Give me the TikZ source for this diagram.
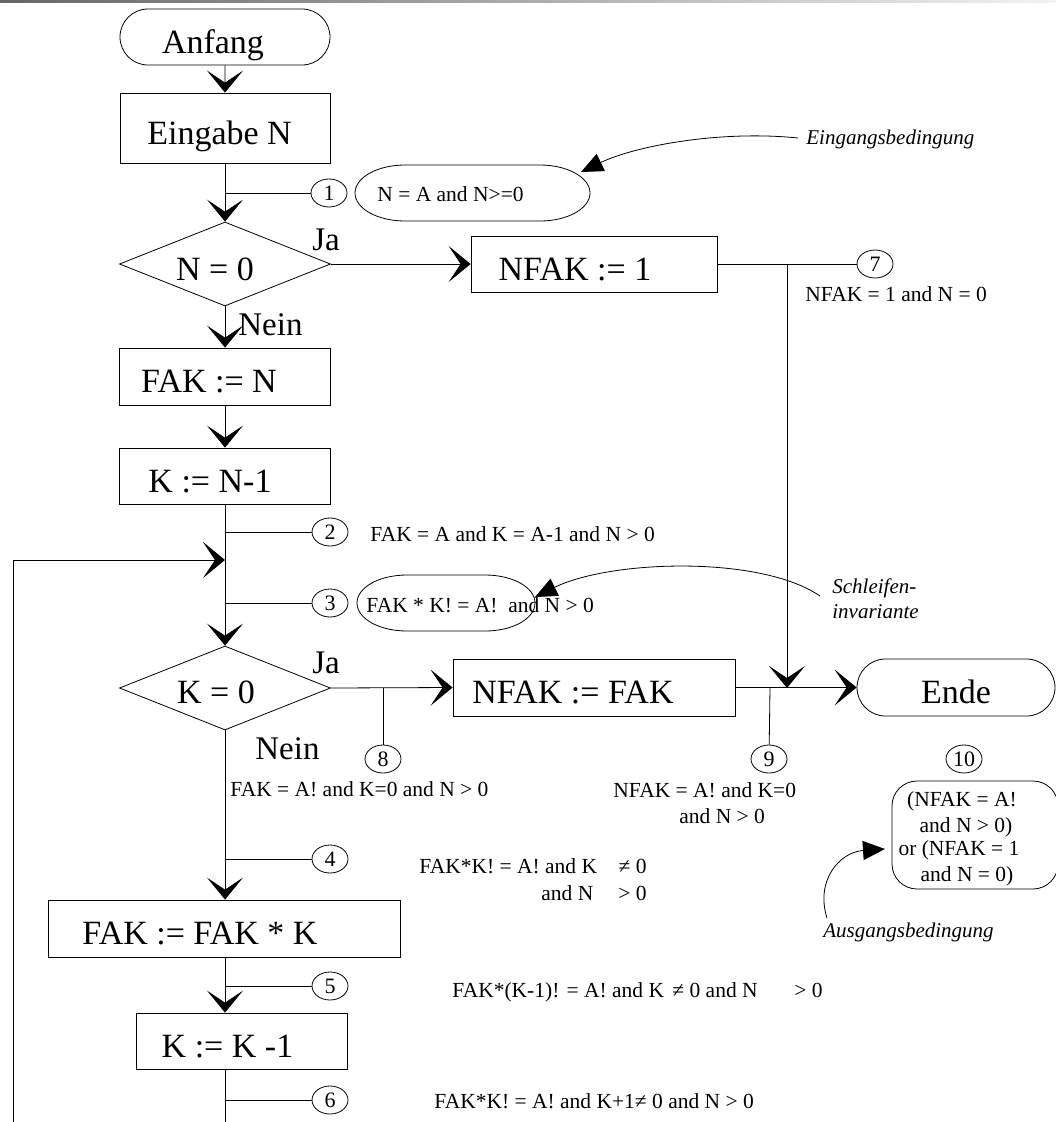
\documentclass[tikz,border=0pt]{standalone}
\usepackage{fontspec}
\setmainfont{Liberation Serif}
\usetikzlibrary{arrows.meta,shapes.geometric,shapes.misc}
\begin{document}
\begin{tikzpicture}[x=1pt,y=-1pt,
  line width=0.8pt,
  big/.style={font=\fontsize{34}{40}\selectfont},
  small/.style={font=\fontsize{21.5}{25}\selectfont},
  ital/.style={font=\fontsize{21}{25}\selectfont\itshape},
  jn/.style={font=\fontsize{33}{38}\selectfont},
  procbox/.style={draw, rectangle, inner sep=0pt, big, text height=34pt, text depth=2pt},
  term/.style={draw, rounded rectangle, inner sep=0pt, big, text height=34pt, text depth=2pt},
  dec/.style={draw, diamond, inner sep=0pt, minimum width=211pt, minimum height=84pt},
  numc/.style={draw, ellipse, inner sep=0pt, minimum width=36pt, minimum height=28pt, font=\fontsize{22}{24}\selectfont},
  flow/.style={-{Stealth[length=22pt,width=36pt,inset=12pt]}},
  ann/.style={-{Triangle[length=22pt,width=19pt]}},
  lbl/.style={anchor=base west, inner sep=0pt, small},
  lble/.style={anchor=base east, inner sep=0pt, small},
  lblc/.style={anchor=base, inner sep=0pt, small},
]
\useasboundingbox (0,0) rectangle (1056,1122);
\shade[left color=black!60, right color=black!5] (0,0) rectangle (1056,2);

% ---- main flow nodes
\node[term, minimum width=210pt, minimum height=56pt] (anf) at (225,37) {Anfang\kern24pt};
\node[procbox, minimum width=210pt, minimum height=70pt] (eing) at (225,128) {Eingabe N\kern11pt};
\node[dec] (n0) at (225,264) {};
\node[big, anchor=base, inner sep=0pt] (n0t) at (215,280) {N = 0};
\node[procbox, minimum width=246pt, minimum height=56pt] (nfak1) at (594,264) {NFAK := 1\kern38pt};
\node[procbox, minimum width=211pt, minimum height=57pt] (fakn) at (225,376.5) {FAK := N\kern32pt};
\node[procbox, minimum width=211pt, minimum height=56pt] (kn1) at (225,476) {K := N-1\kern30pt};
\node[dec] (k0) at (225,688) {};
\node[big, anchor=base, inner sep=0pt] (k0t) at (216,703) {K = 0};
\node[procbox, minimum width=282pt, minimum height=57pt] (nfakfak) at (594,687.5) {NFAK := FAK\kern42pt};
\node[term, minimum width=198pt, minimum height=57pt] (ende) at (956,687.5) {Ende};
\node[procbox, minimum width=352pt, minimum height=57pt] (fakfk) at (224,928.5) {FAK := FAK * K\kern48pt};
\node[procbox, minimum width=211pt, minimum height=56pt] (kk1) at (241.5,1041) {K := K -1\kern28pt};

% ---- Ja / Nein
\node[jn, anchor=base west, inner sep=0pt] (ja1) at (312,250) {Ja};
\node[jn, anchor=base west, inner sep=0pt] (nein1) at (238,335) {Nein};
\node[jn, anchor=base west, inner sep=0pt] (ja2) at (312,673) {Ja};
\node[jn, anchor=base west, inner sep=0pt] (nein2) at (255,759) {Nein};

% ---- numbered circles
\node[numc] (c1) at (329,193) {1};
\node[numc] (c2) at (330,532) {2};
\node[numc] (c3) at (330,603) {3};
\node[numc] (c4) at (330,859) {4};
\node[numc] (c5) at (330,986) {5};
\node[numc] (c6) at (330,1100) {6};
\node[numc] (c7) at (875,264) {7};
\node[numc] (c8) at (383,759) {8};
\node[numc] (c9) at (769,759) {9};
\node[numc] (c10) at (964,759) {10};

% ---- junction coordinates
\coordinate (j1) at (225,193);
\coordinate (j2) at (225,532);
\coordinate (jl) at (225,560);
\coordinate (j3) at (225,603);
\coordinate (j4) at (225,859);
\coordinate (j5) at (225,986);
\coordinate (j6) at (225,1100);
\coordinate (jb) at (225,1122);
\coordinate (lb) at (13,1122);
\coordinate (lc) at (13,560);
\coordinate (j7) at (787,264);
\coordinate (jm) at (787,688);
\coordinate (j8) at (383,688);
\coordinate (j9) at (770,688);

% ---- connectors
\draw[flow] (anf) -- (eing);
\draw[flow] (eing) -- (n0);
\draw (j1) -- (c1);
\draw[flow] (n0.east) -- (nfak1.west);
\draw[flow] (n0.south) -- (fakn.north);
\draw[flow] (fakn) -- (kn1);
\draw[flow] (kn1.south) -- (k0.north);
\draw (j2) -- (c2);
\draw (j3) -- (c3);
\draw[flow] (lb) -- (lc) -- (jl);
\draw (nfak1.east) -- (c7);
\draw[flow] (j7) -- (jm);
\draw[flow] (k0.east) -- (nfakfak.west);
\draw (j8) -- (c8);
\draw[flow] (nfakfak.east) -- (ende.west);
\draw (j9) -- (c9);
\draw[flow] (k0.south) -- (fakfk.north -| anf);
\draw (j4) -- (c4);
\draw[flow] (fakfk.south -| anf) -- (kk1.north -| anf);
\draw (j5) -- (c5);
\draw (kk1.south -| anf) -- (jb);
\draw (j6) -- (c6);

% ---- condition shapes
\draw (405,165) -- (540,165) .. controls (567.6,165) and (590,177.5) .. (590,193)
  .. controls (590,208.5) and (567.6,221) .. (540,221) -- (405,221)
  .. controls (377.4,221) and (355,208.5) .. (355,193)
  .. controls (355,177.5) and (377.4,165) .. (405,165) -- cycle;
\node[lbl] (t1) at (377,201) {N = A and N>=0};

\draw (407,575) -- (485,575) .. controls (513,575) and (535,587.5) .. (535,603)
  .. controls (535,618.5) and (513,631) .. (485,631) -- (407,631)
  .. controls (379,631) and (357,618.5) .. (357,603)
  .. controls (357,587.5) and (379,575) .. (407,575) -- cycle;
\node[lbl] (t3) at (366,612) {FAK * K! = A!\ \ and N > 0};

\node[draw, rectangle, rounded corners=25pt, minimum width=166pt, minimum height=108pt, inner sep=0pt] (b10) at (975,835) {};
\node[lblc] (t10a) at (962,806) {(NFAK = A!};
\node[lblc] (t10b) at (966,832) {and N > 0)};
\node[lblc] (t10c) at (959,855) {or (NFAK = 1};
\node[lblc] (t10d) at (967,881) {and N = 0)};

% ---- assertion texts
\node[lbl] (t7) at (805,301) {NFAK = 1 and N = 0};
\node[lbl] (t2) at (370,541) {FAK = A and K = A-1 and N > 0};
\node[lbl] (t8) at (230,796) {FAK = A! and K=0 and N > 0};
\node[lbl] (t9a) at (613,797) {NFAK = A! and K=0};
\node[lbl] (t9b) at (679,823) {and N > 0};
\node[lbl] (t4a) at (419,873) {FAK*K! = A! and K};
\node[lble] (t4b) at (647,873) {≠ 0};
\node[lbl] (t4c) at (541,900) {and N};
\node[lble] (t4d) at (647,900) {> 0};
\node[lbl] (t5a) at (452,997) {FAK*(K-1)! = A! and K};
\node[lbl] (t5b) at (672,997) {≠ 0 and N};
\node[lble] (t5c) at (823,997) {> 0};
\node[lbl] (t6) at (434,1108) {FAK*K! = A! and K+1≠ 0 and N > 0};

% ---- annotations
\node[lbl, ital] (aein) at (806,144) {Eingangsbedingung};
\node[lbl, ital] (asch1) at (832,593) {Schleifen-};
\node[lbl, ital] (asch2) at (832,618) {invariante};
\node[lbl, ital] (aaus) at (823,937) {Ausgangsbedingung};
\coordinate (sEin) at (798,138);
\coordinate (tipEin) at (581,172);
\coordinate (sSch) at (820,596);
\coordinate (tipSch) at (535,597);
\coordinate (sAus) at (827,918);
\coordinate (tipAus) at (885,849);
\draw[ann] (sEin) .. controls (720,130) and (635,146) .. (tipEin);
\draw[ann] (sSch) .. controls (760,555) and (610,560) .. (tipSch);
\draw[ann] (sAus) .. controls (815,880) and (840,852) .. (tipAus);
\end{tikzpicture}
\end{document}
